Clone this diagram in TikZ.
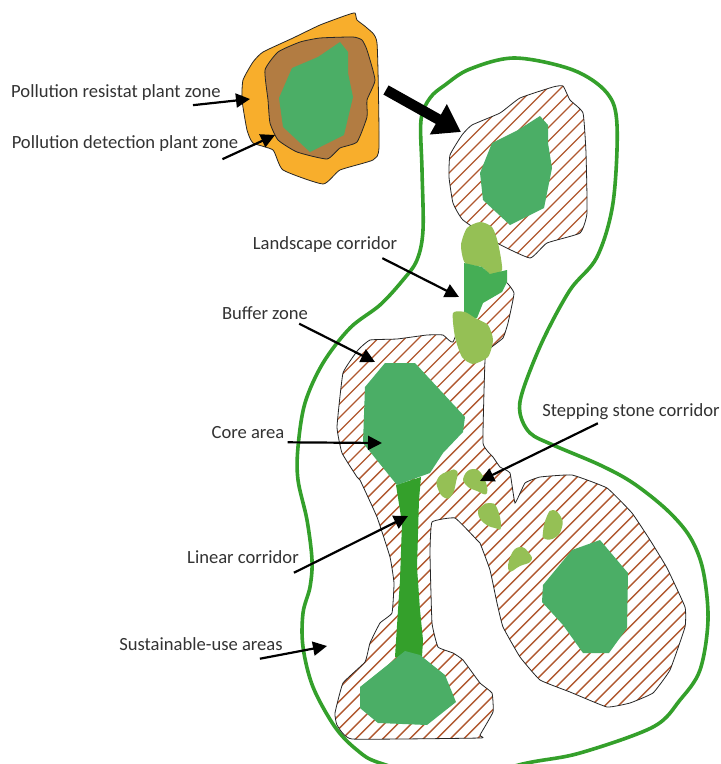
\documentclass[tikz,border=0pt]{standalone}
\usepackage{fontspec}
\setmainfont{Carlito}
\usetikzlibrary{arrows.meta}
\definecolor{zoneorange}{HTML}{F8AE2C}
\definecolor{zonebrown}{HTML}{B27C42}
\definecolor{corecol}{HTML}{4BAE66}
\definecolor{lineargreen}{HTML}{34A02B}
\definecolor{stonegreen}{HTML}{95C055}
\definecolor{landgreen}{HTML}{45AE55}
\definecolor{hatchcol}{HTML}{B0582F}
\begin{document}
\begin{tikzpicture}[
    x=1pt,
    y=-1pt,
    font=\fontsize{18.6}{22}\selectfont,
    label/.style={text=black!80, inner sep=0pt},
    pointer/.style={line width=2.2pt, -{Triangle[length=14pt,width=14pt]}},
    outline/.style={draw=black!85, line width=0.8pt},
    hatchline/.style={draw=hatchcol, line width=1.4pt},
    hatched/.style={path picture={
      \foreach \h in {-520,-506.5,...,720} {
        \draw[hatchline] (\h,764) -- ({\h+764},0);
      }
    }}
  ]
    \clip (0,0) rectangle (721,764);
    \fill[white] (0,0) rectangle (721,764);

    % Sustainable-use boundary
    \draw[lineargreen, line width=3.6pt] plot[smooth cycle, tension=0.55] coordinates {
      (470,69) (515,58) (573,70) (607,93) (617,125) (613,203) (597,257)
      (570,290) (543,340) (523,390) (520,413) (530,433) (553,445) (600,465)
      (633,483) (667,510) (690,537) (703,570) (708,620) (700,670) (680,700)
      (653,727) (580,753) (527,763) (450,780) (380,763) (357,750) (335,727)
      (313,687) (303,647) (303,613) (310,587) (312,560) (307,520) (298,480)
      (298,447) (305,403) (323,363) (350,328) (380,305) (403,280) (417,260)
      (423,230) (422,170) (421,120) (430,98) (445,85)
    };

    % Pollution zones
    \filldraw[fill=zoneorange, outline] plot[smooth cycle, tension=0.3] coordinates {
      (355,13) (347,15) (320,25) (293,38) (263,52) (253,62) (243,80) (242,100)
      (247,130) (253,143) (273,150) (283,170) (323,184) (340,170) (373,160)
      (379,147) (377,43) (367,28) (357,20)
    };
    \filldraw[fill=zonebrown, outline] plot[smooth cycle, tension=0.3] coordinates {
      (353,37) (320,38) (300,42) (278,52) (265,70) (268,100) (270,123) (278,140)
      (297,152) (327,159) (340,148) (357,142) (367,117) (367,100) (375,80)
      (367,50) (362,40)
    };
    \fill[corecol] (340,42) -- (348,52) -- (348,73) -- (353,97) -- (344,135)
      -- (310,152) -- (283,127) -- (279,98) -- (292,68) -- (318,57) -- cycle;

    % Buffer zones
    \path[hatched, outline] plot[smooth cycle, tension=0.25] coordinates {
      (563,86) (553,87) (520,98) (500,113) (472,125) (462,135) (450,155) (449,177)
      (453,203) (463,220) (497,243) (530,258) (547,243) (580,233) (587,213)
      (586,153) (583,113) (570,100)
    };
    \path[hatched, outline] plot[smooth cycle, tension=0.2] coordinates {
      (370,340) (397,339) (427,335) (443,335) (453,342) (470,300) (503,280) (514,293)
      (508,323) (503,338) (488,350) (485,360) (483,443) (493,457) (500,467) (510,473)
      (515,503) (525,483) (540,477) (572,475) (607,488) (632,513) (650,540)
      (667,568) (685,607) (685,627) (670,670) (653,693) (630,703) (607,707)
      (570,692) (540,680) (520,657) (503,627) (497,603) (490,570) (480,543)
      (477,540) (455,518) (432,522) (430,553) (432,623) (438,647) (453,653)
      (463,660) (480,683) (492,693) (493,712) (480,735) (480,738) (352,739)
      (337,725) (335,713) (343,683) (365,662) (370,643) (380,623) (392,613)
      (394,583) (390,557) (377,517) (360,480) (357,477) (342,453) (337,427)
      (343,373) (358,350)
    };

    % Corridors
    \fill[lineargreen] (396,485) -- (421,477) -- (419,500) -- (417,567) -- (420,610)
      -- (423,640) -- (422,657) -- (395,657) -- (398,610) -- (400,580) -- (402,523) -- cycle;
    \fill[stonegreen] plot[smooth cycle, tension=0.4] coordinates {
      (480,222) (492,227) (498,243) (502,270) (490,274) (482,267) (465,263)
      (461,245) (467,228)
    };
    \fill[landgreen] (464,263) -- (482,267) -- (490,274) -- (507,270) -- (507,282)
      -- (502,292) -- (483,303) -- (477,318) -- (470,318) -- (464,312) -- cycle;
    \fill[stonegreen] plot[smooth cycle, tension=0.4] coordinates {
      (453,313) (465,312) (475,318) (488,325) (493,340) (488,357) (473,364)
      (462,357) (455,337)
    };

    % Core areas
    \fill[corecol] (540,116) -- (548,125) -- (548,143) -- (552,168) -- (544,208)
      -- (510,225) -- (483,200) -- (480,173) -- (492,143) -- (518,130) -- cycle;
    \fill[corecol] (385,363) -- (415,363) -- (465,417) -- (463,432) -- (443,453)
      -- (430,473) -- (397,485) -- (363,443) -- (365,387) -- cycle;
    \fill[corecol] (405,651) -- (420,655) -- (445,675) -- (456,702) -- (427,725)
      -- (378,723) -- (360,708) -- (360,687) -- cycle;
    \fill[corecol] (600,540) -- (628,573) -- (627,628) -- (609,653) -- (583,653)
      -- (563,625) -- (542,602) -- (543,585) -- (572,550) -- cycle;

    % Stepping stones
    \fill[stonegreen] plot[smooth cycle, tension=0.85] coordinates {
      (449,471) (457,471) (456,482) (452,495) (445,498) (438,489) (438,478)
    };
    \fill[stonegreen] plot[smooth cycle, tension=0.85] coordinates {
      (473,469) (483,476) (487,493) (477,491) (466,485) (464,476)
    };
    \fill[stonegreen] plot[smooth cycle, tension=0.85] coordinates {
      (490,503) (497,508) (501,527) (495,528) (484,523) (478,513) (482,506)
    };
    \fill[stonegreen] plot[smooth cycle, tension=0.85] coordinates {
      (553,510) (561,517) (562,527) (556,537) (545,539) (543,532) (547,516)
    };
    \fill[stonegreen] plot[smooth cycle, tension=0.85] coordinates {
      (520,547) (529,553) (531,561) (520,566) (509,571) (511,555)
    };

    % Labels
    \node[label] (resist) at (116,92.5) {Pollution resistat plant zone};
    \node[label] (detect) at (125,143.5) {Pollution detection plant zone};
    \node[label] (landscape) at (325,244.5) {Landscape corridor};
    \node[label] (buffer) at (265,313.5) {Buffer zone};
    \node[label] (core) at (248,433) {Core area};
    \node[label] (stepping) at (631,411.5) {Stepping stone corridor};
    \node[label] (linear) at (243,557.5) {Linear corridor};
    \node[label] (sustain) at (201,644.5) {Sustainable-use areas};

    % Arrow tips
    \coordinate (tipresist) at (250,99);
    \coordinate (tipdetect) at (275,135);
    \coordinate (tiplandscape) at (459,297);
    \coordinate (tipbuffer) at (375,362);
    \coordinate (tipcore) at (382,443);
    \coordinate (tipstepping) at (480,481);
    \coordinate (tiplinear) at (408,516);
    \coordinate (tipsustain) at (327,646);
    \coordinate (tailmove) at (386,90);
    \coordinate (tipmove) at (461,132);

    \draw[pointer] ([xshift=-28pt,yshift=-4.5pt]resist.south east) -- (tipresist);
    \draw[pointer] ([xshift=-16pt,yshift=-7.5pt]detect.south east) -- (tipdetect);
    \draw[pointer] ([xshift=-15pt,yshift=-5.5pt]landscape.south east) -- (tiplandscape);
    \draw[pointer] ([xshift=-9pt,yshift=-3.5pt]buffer.south east) -- (tipbuffer);
    \draw[pointer] ([xshift=3pt,yshift=-3pt]core.south east) -- (tipcore);
    \draw[pointer] ([xshift=-122pt,yshift=-3.5pt]stepping.south east) -- (tipstepping);
    \draw[pointer] ([xshift=-5pt,yshift=-8.5pt]linear.south east) -- (tiplinear);
    \draw[pointer] ([xshift=-23pt,yshift=-7.5pt]sustain.south east) -- (tipsustain);
    \draw[line width=10.5pt, -{Triangle[length=26pt,width=33pt]}] (tailmove) -- (tipmove);
  \end{tikzpicture}
\end{document}
